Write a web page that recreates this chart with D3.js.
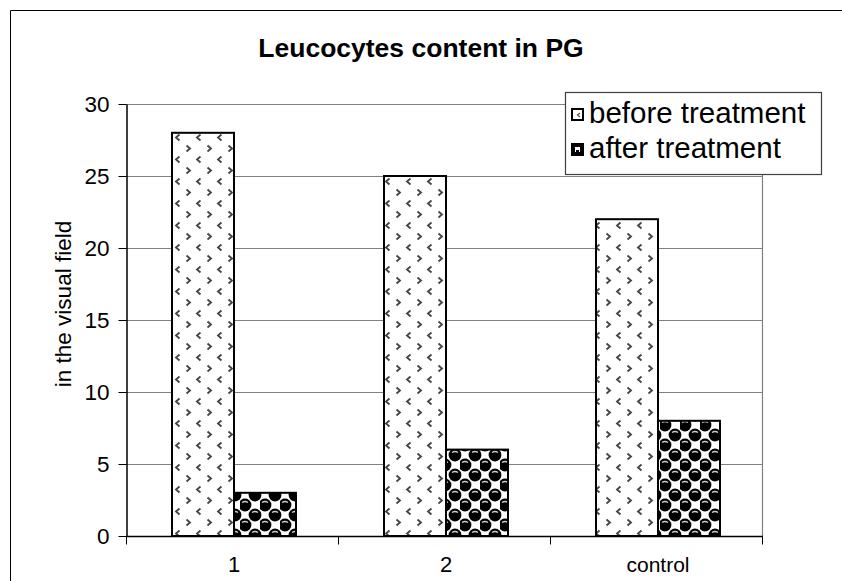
<!DOCTYPE html>
<html>
<head>
<meta charset="utf-8">
<script src="https://cdn.jsdelivr.net/npm/d3@7"></script>
<style>
html, body { margin: 0; padding: 0; background: #fff; overflow: hidden; }
svg { display: block; font-family: Arial, "Liberation Sans", sans-serif; }
</style>
</head>
<body>
<svg id="chart" width="842" height="581"></svg>
<script>
const categories = ["1", "2", "control"];
const seriesNames = ["before treatment", "after treatment"];
const beforeValues = [28, 25, 22];
const afterValues = [3, 6, 8];
const yTicks = [0, 5, 10, 15, 20, 25, 30];
const title = "Leucocytes content in PG";
const yTitle = "in the visual field";

const svg = d3.select("#chart");
const plot = { left: 126, right: 762, top: 104, bottom: 536 };

// patterns
const defs = svg.append("defs");
const p1 = defs.append("pattern").attr("id", "patBefore").attr("patternUnits", "userSpaceOnUse")
  .attr("width", 21).attr("height", 22).attr("x", 172).attr("y", 0);
p1.append("rect").attr("width", 21).attr("height", 22).attr("fill", "#fff");
p1.append("path").attr("d", "M7.5,2.5 L4,5.5 L7.5,8.5").attr("fill", "none").attr("stroke", "#444").attr("stroke-width", 1.8);
p1.append("path").attr("d", "M14.5,13.5 L18,16.5 L14.5,19.5").attr("fill", "none").attr("stroke", "#444").attr("stroke-width", 1.8);

const p2 = defs.append("pattern").attr("id", "patAfter").attr("patternUnits", "userSpaceOnUse")
  .attr("width", 20).attr("height", 20).attr("x", 0).attr("y", 0);
p2.append("rect").attr("width", 20).attr("height", 20).attr("fill", "#fff");
[[5,5],[15,15],[-5,15],[25,15],[15,-5],[15,25],[-5,-5],[25,-5],[-5,25],[25,25],[5,25],[5,-15]].forEach(([cx,cy]) => {
  p2.append("circle").attr("cx", cx).attr("cy", cy).attr("r", 6.4).attr("fill", "#000");
  p2.append("path").attr("d", `M${cx-3},${cy-2.5} Q${cx},${cy-4.5} ${cx+3},${cy-2.5}`)
    .attr("fill", "none").attr("stroke", "#ccc").attr("stroke-width", 1.3);
});

// outer frame (right and bottom edges lie outside the picture)
svg.append("path").attr("d", "M10.5,581 L10.5,10.5 L842,10.5")
  .attr("fill", "none").attr("stroke", "#000").attr("stroke-width", 1);

// title
svg.append("text").attr("x", 421).attr("y", 57).attr("text-anchor", "middle")
  .attr("font-size", 26.5).attr("font-weight", "bold").text(title);

const x = d3.scaleBand().domain(categories).range([plot.left, plot.right]).padding(0);
const y = d3.scaleLinear().domain([0, 30]).range([plot.bottom, plot.top]);

// gridlines
svg.append("g").selectAll("line").data(yTicks.filter(d => d > 0)).join("line")
  .attr("x1", plot.left).attr("x2", plot.right)
  .attr("y1", d => Math.round(y(d)) + 0.5).attr("y2", d => Math.round(y(d)) + 0.5)
  .attr("stroke", "#808080").attr("stroke-width", 1.2);
// right border
svg.append("line").attr("x1", plot.right + 0.5).attr("x2", plot.right + 0.5)
  .attr("y1", plot.top).attr("y2", plot.bottom).attr("stroke", "#808080").attr("stroke-width", 1.2);

// bars
const barW = 62;
const off = 2;
const groups = svg.append("g").selectAll("g").data(categories).join("g");
groups.append("rect")
  .attr("x", (d) => x(d) + x.bandwidth() / 2 + off - barW)
  .attr("y", (d, i) => y(beforeValues[i]))
  .attr("width", barW)
  .attr("height", (d, i) => y(0) - y(beforeValues[i]))
  .attr("fill", "url(#patBefore)").attr("stroke", "#000").attr("stroke-width", 2);
groups.append("rect")
  .attr("x", (d) => x(d) + x.bandwidth() / 2 + off)
  .attr("y", (d, i) => y(afterValues[i]))
  .attr("width", barW)
  .attr("height", (d, i) => y(0) - y(afterValues[i]))
  .attr("fill", "url(#patAfter)").attr("stroke", "#000").attr("stroke-width", 2);

// y axis
const yAxis = d3.axisLeft(y).tickValues(yTicks).tickSize(8).tickPadding(9).tickSizeOuter(0);
const gy = svg.append("g").attr("transform", `translate(${plot.left + 0.5},0)`).call(yAxis);
gy.select(".domain").attr("stroke", "#000").attr("stroke-width", 1.5);
gy.selectAll(".tick line").attr("stroke", "#000");
gy.selectAll("text").attr("font-size", 22.5).attr("fill", "#000").attr("font-family", "Arial, 'Liberation Sans', sans-serif");

// x axis
const gx = svg.append("g").attr("transform", `translate(0,${plot.bottom + 0.5})`);
gx.append("line").attr("x1", plot.left).attr("x2", plot.right + 1).attr("y1", 0).attr("y2", 0)
  .attr("stroke", "#000").attr("stroke-width", 1.5);
const boundaries = [plot.left].concat(categories.map(c => x(c) + x.bandwidth()));
gx.selectAll("line.t").data(boundaries).join("line").attr("class", "t")
  .attr("x1", d => d + 0.5).attr("x2", d => d + 0.5).attr("y1", 0).attr("y2", 8).attr("stroke", "#000");
gx.selectAll("text").data(categories).join("text")
  .attr("x", d => x(d) + x.bandwidth() / 2 + off).attr("y", 35)
  .attr("text-anchor", "middle").attr("font-size", d => d === "control" ? 21 : 22).text(d => d);

// y title
svg.append("text").attr("transform", "translate(71,304) rotate(-90)")
  .attr("text-anchor", "middle").attr("font-size", 22.5).text(yTitle);

// legend
const lg = svg.append("g");
lg.append("rect").attr("x", 565.5).attr("y", 92.5).attr("width", 256).attr("height", 82)
  .attr("fill", "#fff").attr("stroke", "#404040").attr("stroke-width", 1.2);
seriesNames.forEach((name, i) => {
  const cy = 115 + i * 35;
  lg.append("rect").attr("x", 572).attr("y", cy - 6).attr("width", 11).attr("height", 11)
    .attr("fill", i === 0 ? "#fff" : "#000").attr("stroke", "#000").attr("stroke-width", 2);
  if (i === 0) {
    lg.append("path").attr("d", `M580,${cy-2} L577.5,${cy} L580,${cy+2}`).attr("fill", "none").attr("stroke", "#555").attr("stroke-width", 1.3);
  } else {
    lg.append("rect").attr("x", 575).attr("y", cy - 3).attr("width", 5).attr("height", 5).attr("fill", "#fff");
    lg.append("rect").attr("x", 576).attr("y", cy).attr("width", 3).attr("height", 2).attr("fill", "#000");
  }
  lg.append("text").attr("x", 589).attr("y", cy + 8).attr("font-size", 29.5).text(name);
});
</script>
</body>
</html>
